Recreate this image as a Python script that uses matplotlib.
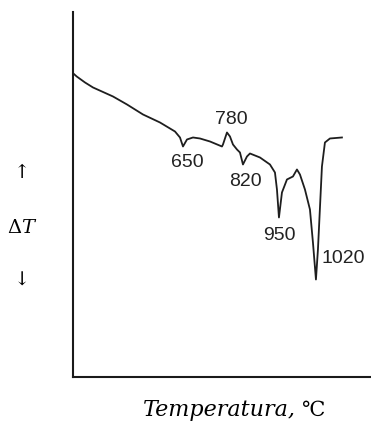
import matplotlib
matplotlib.use('Agg')
import matplotlib.pyplot as plt

plt.rcParams.update({'mathtext.fontset': 'dejavuserif'})

# DTA trace, arbitrary units (temperature increases to the right)
temp = [0.3, 3.7, 12, 20, 40, 54, 70, 87, 102, 107, 110, 114, 120, 127, 137,
        149, 150, 154, 157, 160, 164, 167, 170, 174, 177, 187, 197, 202, 204,
        206, 209, 214, 220, 224, 227, 232, 237, 240, 243, 245, 249, 252, 257, 269]
delta_t = [304, 301, 295, 290, 281, 273, 263, 255, 246, 240, 231, 238, 240, 239, 236,
           231, 233, 245, 241, 233, 228, 225, 213, 221, 224, 220, 213, 205, 188,
           160, 185, 198, 201, 208, 203, 188, 168, 135, 98, 128, 211, 235, 239, 240]

# peak labels (°C) and where they sit
peak_labels = ['650', '780', '820', '950', '1020']
label_x = [114, 158, 172, 206, 270]
label_y = [216, 259, 197, 143, 120]

fig = plt.figure(figsize=(3.71, 4.27), dpi=100)
ax = fig.add_axes([0.1968, 0.1136, 0.803, 0.856])

ax.plot(temp, delta_t, color='#1e1e1e', linewidth=1.3)

for lab, x, y in zip(peak_labels, label_x, label_y):
    ax.text(x, y, lab, ha='center', va='center', fontsize=14,
            family='Liberation Sans', color='#222222')

ax.set_xlim(0, 298)
ax.set_ylim(0, 365.5)
ax.spines['top'].set_visible(False)
ax.spines['right'].set_visible(False)
for s in ['left', 'bottom']:
    ax.spines[s].set_linewidth(1.5)
    ax.spines[s].set_color('#1a1a1a')
ax.set_xticks([])
ax.set_yticks([])

# y-axis legend: arrows around the ΔT symbol
fig.text(22 / 371, 1 - 173 / 427, '↑', ha='center', va='center', fontsize=14,
         family='DejaVu Serif')
fig.text(22 / 371, 1 - 228 / 427, r'$\Delta T$', ha='center', va='center', fontsize=14)
fig.text(22 / 371, 1 - 281 / 427, '↓', ha='center', va='center', fontsize=14,
         family='DejaVu Serif')

fig.text(296 / 371, 1 - 410 / 427, 'Temperatura,', ha='right', va='center',
         fontsize=16, family='DejaVu Serif', style='italic')
fig.text(301 / 371, 1 - 410 / 427, '℃', ha='left', va='center',
         fontsize=15, family='DejaVu Serif')

fig.savefig('out.png', dpi=100)
